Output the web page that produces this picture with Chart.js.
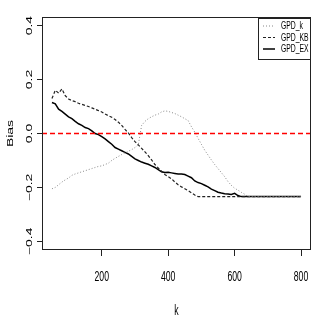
<!DOCTYPE html>
<html>
<head>
<meta charset="utf-8">
<script src="https://cdn.jsdelivr.net/npm/chart.js@4/dist/chart.umd.min.js"></script>
<style>
  html, body { margin: 0; padding: 0; background: #fff; }
  #wrap { width: 320px; height: 327px; }
</style>
</head>
<body>
<div id="wrap"><canvas id="chart" width="320" height="327"></canvas></div>
<script>
// k values (x axis)
const kValues = [50,60,70,80,90,100,110,120,130,140,150,160,170,180,190,200,210,220,230,240,
  250,260,270,280,290,300,310,320,330,340,350,360,370,380,390,400,410,420,430,440,
  450,460,470,480,490,500,510,520,530,540,550,560,570,580,590,600,610,620,630,640,
  650,660,670,680,690,700,710,720,730,740,750,760,770,780,790,800];

// GPD_k (dotted)
const gpdK = [-0.205,-0.200,-0.190,-0.180,-0.172,-0.165,-0.155,-0.150,-0.146,-0.142,
  -0.138,-0.134,-0.130,-0.126,-0.122,-0.120,-0.115,-0.110,-0.100,-0.092,
  -0.085,-0.078,-0.072,-0.066,-0.060,-0.052,-0.042,0.030,0.045,0.055,
  0.062,0.068,0.072,0.080,0.084,0.082,0.078,0.074,0.068,0.062,
  0.055,0.048,0.025,0.005,-0.018,-0.040,-0.062,-0.080,-0.098,-0.115,
  -0.130,-0.145,-0.160,-0.178,-0.192,-0.203,-0.210,-0.218,-0.225,-0.234,
  -0.234,-0.234,-0.234,-0.234,-0.234,-0.234,-0.234,-0.234,-0.234,-0.234,
  -0.234,-0.234,-0.234,-0.234,-0.234,-0.234];

// GPD_KB (dashed)
const gpdKB = [0.130,0.160,0.150,0.165,0.140,0.128,0.122,0.118,0.112,0.108,
  0.104,0.100,0.095,0.090,0.085,0.080,0.072,0.066,0.060,0.052,
  0.042,0.030,0.015,0.002,-0.015,-0.030,-0.042,-0.055,-0.068,-0.082,
  -0.098,-0.115,-0.128,-0.140,-0.152,-0.160,-0.168,-0.180,-0.190,-0.198,
  -0.205,-0.212,-0.220,-0.228,-0.234,-0.234,-0.234,-0.234,-0.234,-0.234,
  -0.234,-0.234,-0.234,-0.234,-0.234,-0.234,-0.234,-0.234,-0.234,-0.234,
  -0.234,-0.234,-0.234,-0.234,-0.234,-0.234,-0.234,-0.234,-0.234,-0.234,
  -0.234,-0.234,-0.234,-0.234,-0.234,-0.234];

// GPD_EX (solid)
const gpdEX = [0.115,0.110,0.090,0.082,0.072,0.062,0.055,0.045,0.036,0.030,
  0.022,0.018,0.010,0.000,-0.004,-0.012,-0.020,-0.030,-0.040,-0.052,
  -0.058,-0.064,-0.070,-0.076,-0.085,-0.094,-0.100,-0.106,-0.110,-0.114,
  -0.120,-0.126,-0.134,-0.142,-0.145,-0.144,-0.146,-0.148,-0.150,-0.150,
  -0.152,-0.158,-0.164,-0.176,-0.182,-0.186,-0.192,-0.198,-0.206,-0.212,
  -0.218,-0.221,-0.223,-0.224,-0.226,-0.222,-0.230,-0.234,-0.234,-0.234,
  -0.234,-0.234,-0.234,-0.234,-0.234,-0.234,-0.234,-0.234,-0.234,-0.234,
  -0.234,-0.234,-0.234,-0.234,-0.234,-0.234];

const xTicks = [200, 400, 600, 800];
const yTicks = [-0.4, -0.2, 0.0, 0.2, 0.4];
const yTickLabels = ['\u22120.4', '\u22120.2', '0.0', '0.2', '0.4'];
const seriesNames = ['GPD_k', 'GPD_KB', 'GPD_EX'];

const SQ = 0.62; // horizontal squash of R text
const FONT = '"Liberation Sans", Arial, sans-serif';

function pts(ys){ return kValues.map((k,i)=>({x:k, y:ys[i]})); }

const styles = [
  {color:'#888888', width:1, dash:[1,2]},
  {color:'#222222', width:1.2, dash:[3,2]},
  {color:'#000000', width:1.5, dash:[]}
];

const rPlot = {
  id: 'rPlot',
  afterDatasetsDraw(chart){
    const ctx = chart.ctx, a = chart.chartArea;
    const xs = chart.scales.x, ys = chart.scales.y;
    ctx.save();
    // zero line
    const y0 = ys.getPixelForValue(0);
    ctx.strokeStyle = '#ff0000'; ctx.lineWidth = 1.6; ctx.setLineDash([5,3]);
    ctx.beginPath(); ctx.moveTo(a.left, y0); ctx.lineTo(a.right, y0); ctx.stroke();
    ctx.setLineDash([]);
    // box
    ctx.strokeStyle = '#222'; ctx.lineWidth = 1;
    ctx.strokeRect(a.left + 0.5, a.top + 0.5, a.right - a.left - 1, a.bottom - a.top - 1);
    // x tick labels
    ctx.fillStyle = '#000';
    ctx.font = '14px ' + FONT;
    ctx.textAlign = 'center'; ctx.textBaseline = 'middle';
    xTicks.forEach(v=>{
      const px = xs.getPixelForValue(v);
      ctx.save(); ctx.translate(px, 277); ctx.scale(SQ,1); ctx.fillText(String(v), 0, 0); ctx.restore();
    });
    // y tick labels (rotated)
    yTicks.forEach((v,i)=>{
      const py = ys.getPixelForValue(v);
      ctx.save(); ctx.translate(29.5, py); ctx.scale(SQ,1); ctx.rotate(-Math.PI/2);
      ctx.fillText(yTickLabels[i], 0, 0); ctx.restore();
    });
    // axis titles
    ctx.save(); ctx.translate((a.left + a.right)/2, 311); ctx.scale(SQ,1); ctx.fillText('k', 0, 0); ctx.restore();
    ctx.save(); ctx.translate(10.5, (a.top + a.bottom)/2); ctx.scale(SQ,1); ctx.rotate(-Math.PI/2);
    ctx.fillText('Bias', 0, 0); ctx.restore();
    // legend
    const lx = 258.5, ly = a.top + 1.5, lw = a.right - 0.5 - lx, lh = 41;
    ctx.fillStyle = '#fff'; ctx.fillRect(lx, ly, lw, lh);
    ctx.strokeStyle = '#222'; ctx.lineWidth = 1; ctx.strokeRect(lx, ly, lw, lh);
    ctx.font = '11px ' + FONT; ctx.textAlign = 'left'; ctx.fillStyle = '#000';
    seriesNames.forEach((name,i)=>{
      const ry = 26 + i*11.5;
      const s = styles[i];
      ctx.strokeStyle = s.color; ctx.lineWidth = s.width; ctx.setLineDash(s.dash);
      ctx.beginPath(); ctx.moveTo(263, ry); ctx.lineTo(275, ry); ctx.stroke();
      ctx.setLineDash([]);
      ctx.save(); ctx.translate(281, ry); ctx.scale(SQ,1); ctx.fillText(name, 0, 0); ctx.restore();
    });
    ctx.restore();
  }
};

const datasets = [gpdK, gpdKB, gpdEX].map((ys,i)=>({
  label: seriesNames[i], data: pts(ys),
  borderColor: styles[i].color, borderWidth: styles[i].width, borderDash: styles[i].dash,
  pointRadius: 0, tension: 0, fill: false
}));

new Chart(document.getElementById('chart'), {
  type: 'line',
  data: { datasets },
  options: {
    responsive: false, animation: false,
    layout: { padding: { left: 0, top: 17, right: 9, bottom: 0 } },
    plugins: { legend: { display: false }, tooltip: { enabled: false } },
    scales: {
      x: {
        type: 'linear', min: 20, max: 830,
        afterBuildTicks: s => { s.ticks = xTicks.map(v=>({value:v})); },
        afterFit: s => { s.height = 77; },
        ticks: { display: false },
        grid: { display: true, drawOnChartArea: false, drawTicks: true, tickLength: 6, color: '#222' },
        border: { display: false }
      },
      y: {
        type: 'linear', min: -0.432, max: 0.432,
        afterBuildTicks: s => { s.ticks = yTicks.map(v=>({value:v})); },
        afterFit: s => { s.width = 42; },
        ticks: { display: false },
        grid: { display: true, drawOnChartArea: false, drawTicks: true, tickLength: 5, color: '#222' },
        border: { display: false }
      }
    }
  },
  plugins: [rPlot]
});
</script>
</body>
</html>
